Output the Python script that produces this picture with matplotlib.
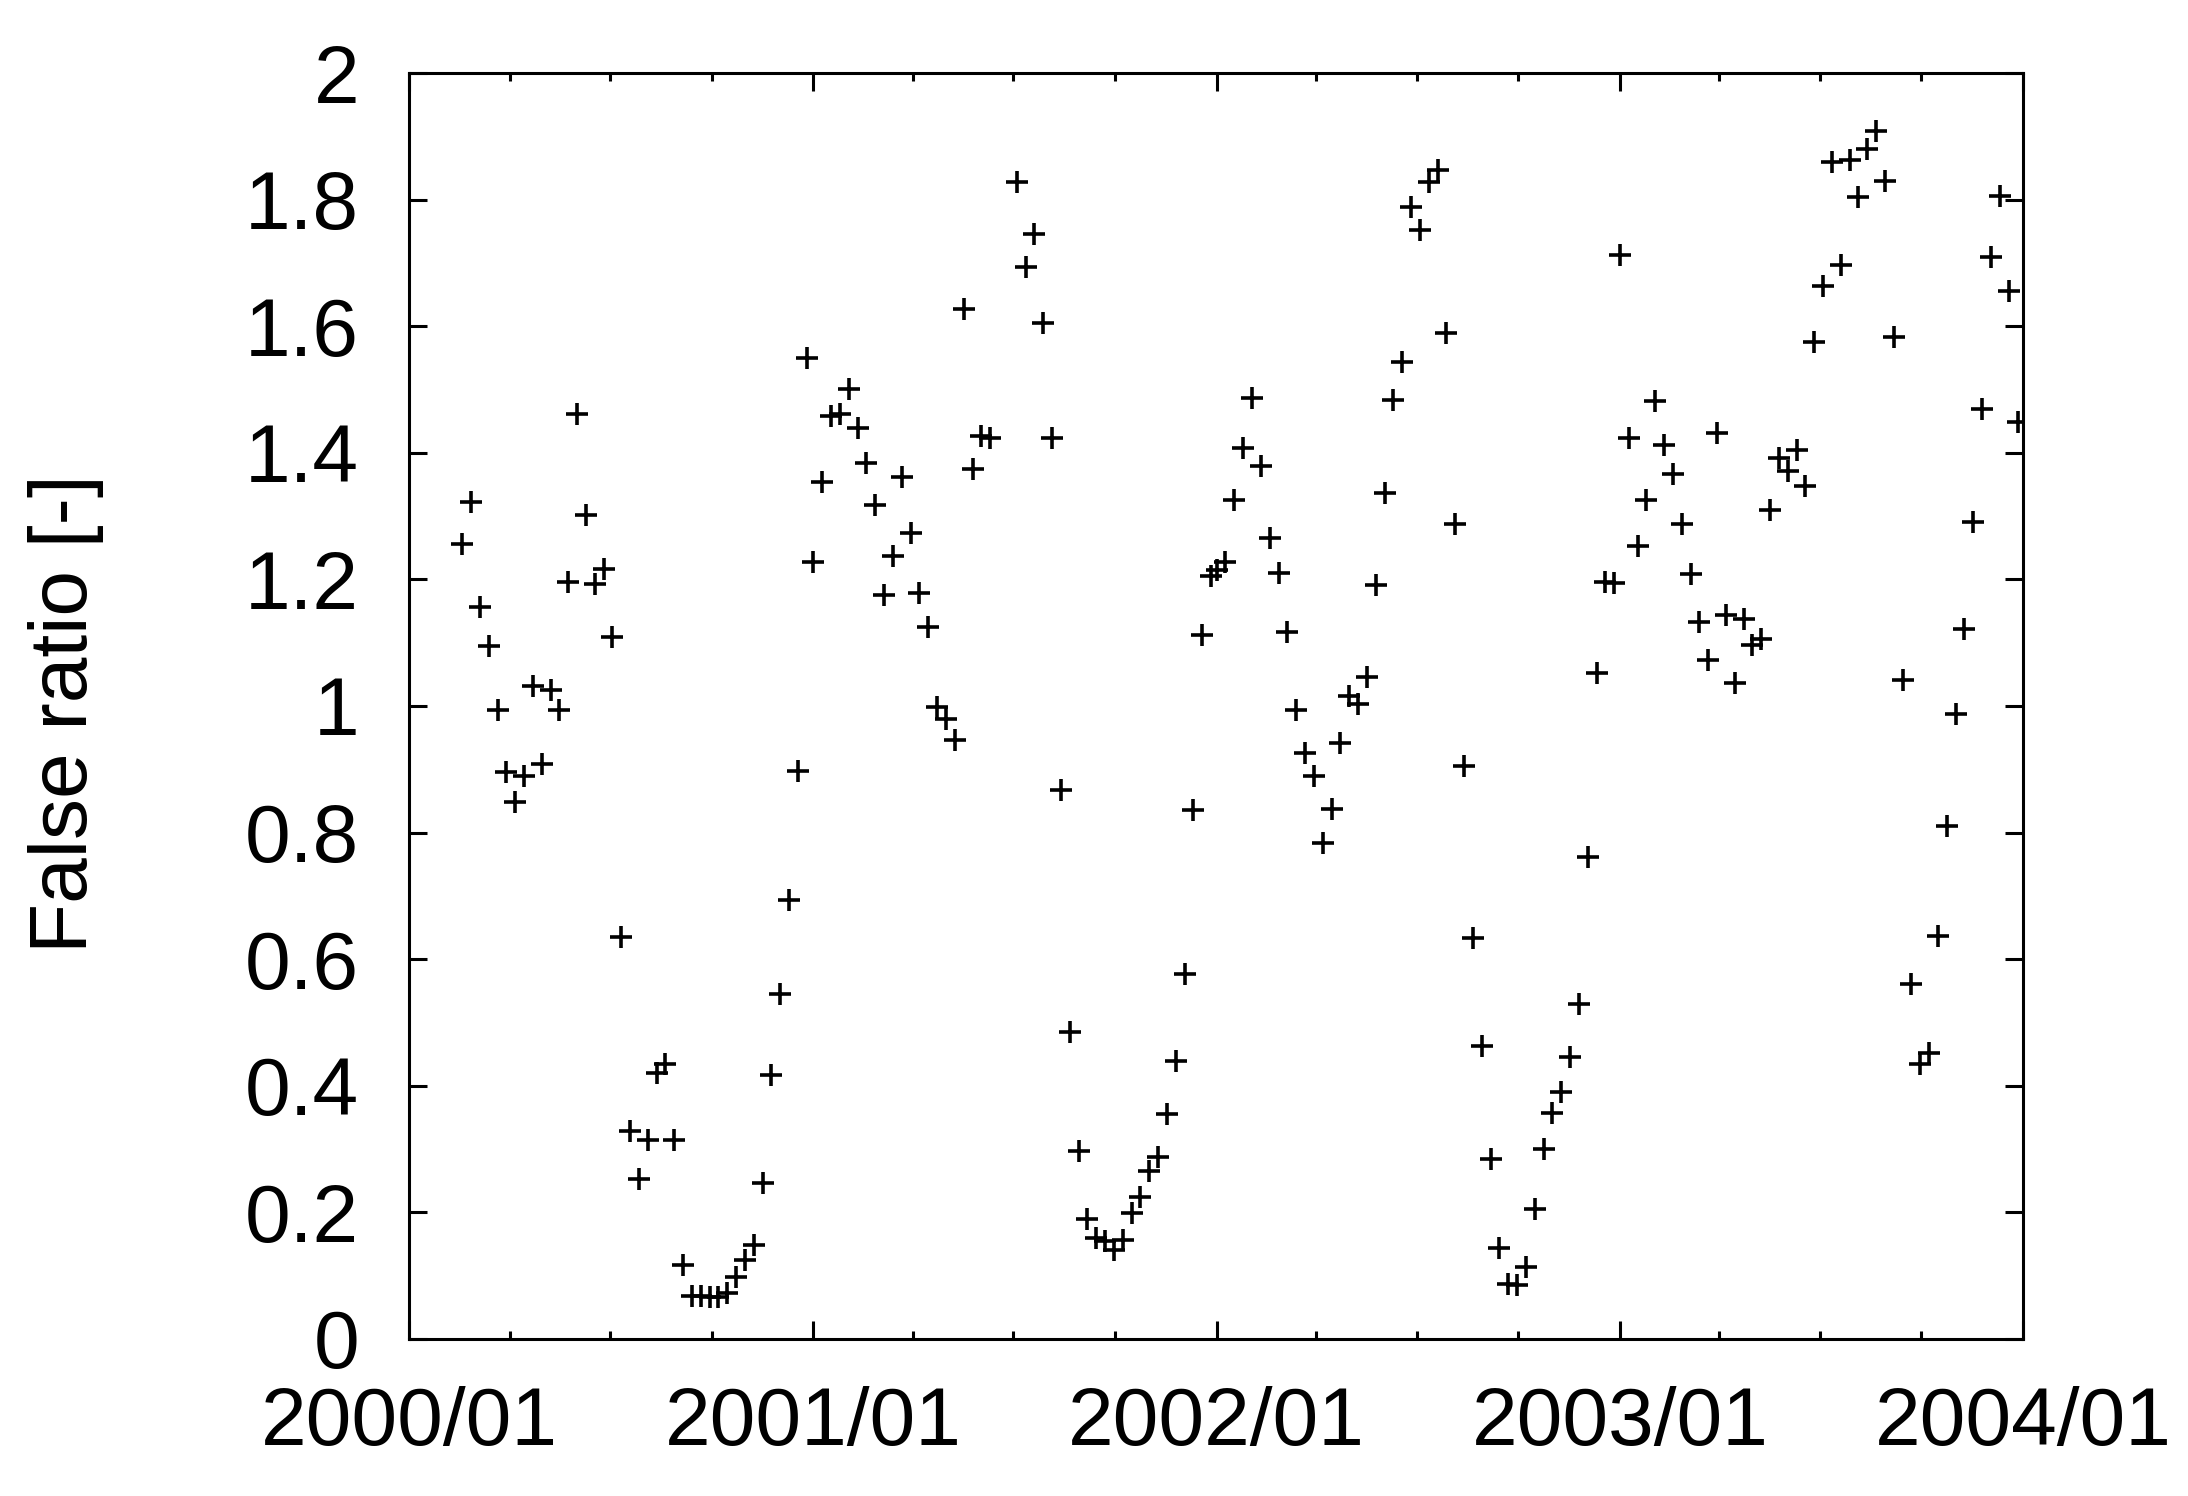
import matplotlib
matplotlib.use('Agg')
import matplotlib.pyplot as plt
import matplotlib.dates as mdates
import numpy as np
from datetime import datetime, timedelta

plt.rcParams['font.family'] = ['Liberation Sans', 'DejaVu Sans']

# 8-day composite start days (day of year); 2000 begins at DOY 49
doy_2000 = list(range(49, 362, 8))
doy_full = list(range(1, 362, 8))

ratio_2000 = [1.256, 1.322, 1.157, 1.094, 0.993, 0.895, 0.848, 0.890, 1.031, 0.908,
              1.026, 0.993, 1.196, 1.461, 1.302, 1.192, 1.216, 1.109, 0.635, 0.328,
              0.252, 0.315, 0.420, 0.434, 0.315, 0.116, 0.068, 0.068, 0.066, 0.066,
              0.073, 0.098, 0.125, 0.149, 0.246, 0.417, 0.545, 0.693, 0.897, 1.550]

ratio_2001 = [1.227, 1.354, 1.458, 1.462, 1.501, 1.439, 1.384, 1.318, 1.176, 1.237,
              1.362, 1.273, 1.178, 1.125, 0.999, 0.979, 0.946, 1.627, 1.374, 1.427,
              1.423, np.nan, np.nan, 1.828, 1.694, 1.746, 1.605, 1.424, 0.868, 0.485,
              0.297, 0.189, 0.159, 0.154, 0.141, 0.156, 0.199, 0.225, 0.266, 0.287,
              0.356, 0.439, 0.577, 0.836, 1.112, 1.205]

ratio_2002 = [1.215, 1.228, 1.326, 1.408, 1.487, 1.379, 1.266, 1.210, 1.117, 0.993,
              0.925, 0.889, 0.784, 0.838, 0.941, 1.015, 1.003, 1.045, 1.191, 1.336,
              1.484, 1.544, 1.788, 1.752, 1.828, 1.846, 1.590, 1.288, 0.905, 0.633,
              0.462, 0.284, 0.143, 0.087, 0.085, 0.113, 0.205, 0.300, 0.357, 0.390,
              0.446, 0.529, 0.761, 1.052, 1.196, 1.194]

ratio_2003 = [1.712, 1.423, 1.253, 1.326, 1.482, 1.412, 1.367, 1.287, 1.208, 1.132,
              1.073, 1.431, 1.143, 1.037, 1.137, 1.096, 1.106, 1.310, 1.392, 1.371,
              1.405, 1.348, 1.575, 1.663, 1.859, 1.696, 1.862, 1.804, 1.880, 1.908,
              1.829, 1.583, 1.041, 0.561, 0.435, 0.452, 0.636, 0.810, 0.988, 1.121,
              1.290, 1.469, 1.710, 1.805, 1.656, 1.448]

series = [(2000, doy_2000, ratio_2000), (2001, doy_full, ratio_2001),
          (2002, doy_full, ratio_2002), (2003, doy_full, ratio_2003)]

dates = []
vals = []
for year, days, r in series:
    for d, v in zip(days, r):
        dates.append(datetime(year, 1, 1) + timedelta(days=d - 1))
        vals.append(v)

fig = plt.figure(figsize=(10.94, 7.48), dpi=200)
ax = fig.add_axes([0.187, 0.105, 0.7376, 0.8462])

ax.plot(dates, vals, linestyle='none', marker='+', color='black',
        markersize=8, markeredgewidth=1.3)

ax.set_xlim(datetime(2000, 1, 1), datetime(2004, 1, 1))
ax.set_ylim(0, 2)

ax.xaxis.set_major_locator(mdates.YearLocator())
ax.xaxis.set_major_formatter(mdates.DateFormatter('%Y/%m'))
ax.xaxis.set_minor_locator(mdates.MonthLocator(bymonth=[4, 7, 10]))
ax.set_yticks(np.arange(0, 2.01, 0.2))
ax.set_yticklabels(['0', '0.2', '0.4', '0.6', '0.8', '1', '1.2', '1.4', '1.6', '1.8', '2'])

ax.tick_params(which='both', direction='in', top=True, right=True, labelsize=29.5, width=1.1)
ax.tick_params(which='major', length=6.5)
ax.tick_params(which='minor', length=3)
ax.tick_params(axis='x', which='major', pad=17)
ax.tick_params(axis='y', which='major', pad=18)

for sp in ax.spines.values():
    sp.set_linewidth(1.1)

ax.set_ylabel('False ratio [-]', fontsize=29.5)
ax.yaxis.label.set_verticalalignment('center')
ax.yaxis.set_label_coords(-0.2125, 0.494)

fig.savefig('out.png', dpi=200)
